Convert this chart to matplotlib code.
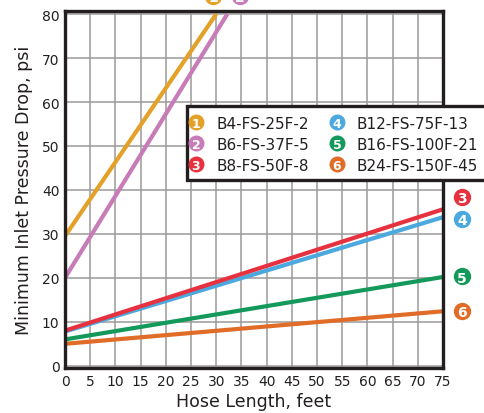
import matplotlib
matplotlib.use('Agg')
import matplotlib.pyplot as plt
from matplotlib.lines import Line2D
from matplotlib.patches import Rectangle

# Hose length (feet) at the two ends of each line, pressure drop (psi)
hose_b4 = [0, 30]
psi_b4 = [29.5, 80]
hose_b6 = [0, 32.2]
psi_b6 = [20, 80]
hose_b8 = [0, 75]
psi_b8 = [8, 35.6]
hose_b12 = [0, 75]
psi_b12 = [7.8, 33.8]
hose_b16 = [0, 75]
psi_b16 = [6, 20.2]
hose_b24 = [0, 75]
psi_b24 = [5, 12.4]

models = ['B4-FS-25F-2', 'B6-FS-37F-5', 'B8-FS-50F-8',
          'B12-FS-75F-13', 'B16-FS-100F-21', 'B24-FS-150F-45']
numbers = ['1', '2', '3', '4', '5', '6']
colors = ['#e3a128', '#c77bb7', '#e8313f', '#4ba9df', '#13995a', '#e06c27']

x_ticks = list(range(0, 80, 5))
y_ticks = list(range(0, 90, 10))

# where the numbered badges sit (data coords)
badge_x = [29.4, 34.7, 78.8, 78.8, 78.8, 78.8]
badge_y = [84.2, 84.2, 38.4, 33.4, 20.4, 12.5]

DARK = '#231f20'
W, H = 484, 414

fig = plt.figure(figsize=(4.84, 4.14), dpi=100)
ax = fig.add_axes([65 / W, 1 - 369 / H, (443 - 65) / W, (369 - 12) / H])

series = [(hose_b4, psi_b4), (hose_b6, psi_b6), (hose_b8, psi_b8),
          (hose_b12, psi_b12), (hose_b16, psi_b16), (hose_b24, psi_b24)]
# draw from bottom to top so red sits over blue like the original
order = [5, 4, 3, 2, 1, 0]
for i in order:
    xs, ys = series[i]
    ax.plot(xs, ys, color=colors[i], lw=3.0, solid_capstyle='butt', zorder=3)

ax.set_xlim(0, 75)
ax.set_ylim(-0.5, 80.7)
ax.set_xticks(x_ticks)
ax.set_yticks(y_ticks)
ax.grid(True, color='#9d9999', lw=1.1)
ax.set_axisbelow(True)
ax.tick_params(length=0, labelsize=10, colors=DARK, pad=4)
for s in ax.spines.values():
    s.set_linewidth(2.4)
    s.set_color(DARK)
    s.set_zorder(5)

ax.set_xlabel('Hose Length, feet', fontsize=12.5, color=DARK, labelpad=3)
ax.set_ylabel('Minimum Inlet Pressure Drop, psi', fontsize=12.5, color=DARK, labelpad=6)

# numbered badges at line ends (the top two are cut by the picture edge)
for i in range(6):
    ax.plot(badge_x[i], badge_y[i], 'o', ms=12.5, color=colors[i],
            mec='none', clip_on=False, zorder=6)
    ax.text(badge_x[i], badge_y[i], numbers[i], color='white', fontsize=10,
            fontweight='bold', ha='center', va='center_baseline',
            clip_on=False, zorder=7)

# legend box, runs off the right edge of the picture
def fx(px):
    return px / W

def fy(py):
    return 1 - py / H

box = Rectangle((fx(187), fy(181)), fx(400), 74 / H, transform=fig.transFigure,
                facecolor='white', edgecolor=DARK, lw=2.4, zorder=10)
fig.add_artist(box)

col_x = [196, 337]
row_y = [123, 144, 165]
for i in range(6):
    cx = col_x[i // 3]
    cy = row_y[i % 3]
    fig.add_artist(Line2D([fx(cx)], [fy(cy)], marker='o', ms=11.5, color=colors[i],
                          mec='none', transform=fig.transFigure, zorder=11))
    fig.text(fx(cx), fy(cy), numbers[i], color='white', fontsize=9,
             fontweight='bold', ha='center', va='center_baseline', zorder=12)
    fig.text(fx(cx + 20), fy(cy), models[i], color=DARK, fontsize=11,
             ha='left', va='center_baseline', zorder=12)

fig.savefig('out.png', dpi=100)
